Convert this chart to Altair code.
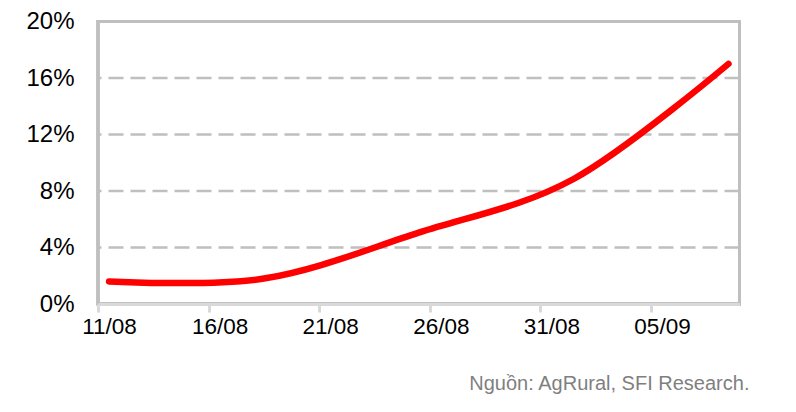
import altair as alt
import pandas as pd

# Weekly readings (day index from 11/08)
day_index = [0, 7, 14, 21, 28]
day_labels = ["11/08", "18/08", "25/08", "01/09", "08/09"]
pct = [1.6, 1.8, 5.05, 8.85, 17.0]

# Axis definitions
tick_positions = [-0.5, 4.5, 9.5, 14.5, 19.5, 24.5]
tick_labels = ["11/08", "16/08", "21/08", "26/08", "31/08", "05/09"]
y_ticks = [0, 4, 8, 12, 16, 20]
grid_levels = [4, 8, 12, 16]
x_domain = [-0.5, 28.5]
y_domain = [0, 20]

source_text = "Nguồn: AgRural, SFI Research."

df = pd.DataFrame({"day": day_index, "date": day_labels, "pct": pct})
grid_df = pd.DataFrame({"pct": grid_levels})

label_expr = " : ".join(
    f"datum.value == {p} ? '{l}'" for p, l in zip(tick_positions, tick_labels)
) + " : ''"

FONT = "Liberation Sans"
xscale = alt.Scale(domain=x_domain, nice=False, zero=False)
yscale = alt.Scale(domain=y_domain, nice=False, zero=True)

y_axis = alt.Axis(
    values=y_ticks,
    labelExpr="datum.value + '%'",
    ticks=False,
    domain=False,
    labelFontSize=24,
    labelFont=FONT,
    labelColor="#000000",
    labelPadding=24,
    grid=False,
    title=None,
)

grid = alt.Chart(grid_df).mark_rule(
    color="#BFBFBF", strokeWidth=2.5, strokeDash=[15, 7]
).encode(y=alt.Y("pct:Q", scale=yscale, axis=y_axis))

border = alt.Chart(grid_df).mark_rect(
    fill="transparent", stroke="#BFBFBF", strokeWidth=3
).encode(
    x=alt.datum(x_domain[0], scale=xscale),
    x2=alt.datum(x_domain[1]),
    y=alt.datum(y_domain[0], scale=yscale),
    y2=alt.datum(y_domain[1]),
)

line = alt.Chart(df).mark_line(
    color="#FF0000", strokeWidth=6.5, strokeCap="round", interpolate="cardinal"
).encode(
    x=alt.X(
        "day:Q",
        scale=xscale,
        axis=alt.Axis(
            values=tick_positions,
            labelExpr=label_expr,
            labelOffset=11,
            tickSize=8,
            tickWidth=3,
            tickColor="#D9D9D9",
            domainColor="#D9D9D9",
            domainWidth=3,
            labelFontSize=22.5,
            labelFont=FONT,
            labelColor="#000000",
            labelPadding=3,
            labelFlush=False,
            labelOverlap=False,
            grid=False,
            title=None,
            zindex=1,
        ),
    ),
    y=alt.Y("pct:Q", scale=yscale, axis=y_axis),
)

chart = alt.layer(grid, border, line).properties(
    width=641.5,
    height=282.5,
    title=alt.TitleParams(
        source_text,
        orient="bottom",
        anchor="end",
        fontSize=20,
        font=FONT,
        fontWeight="normal",
        color="#7F7F7F",
        offset=36,
        dx=8,
    ),
    autosize=alt.AutoSizeParams(type="none"),
    padding={"left": 90, "top": 13.5, "right": 40, "bottom": 90},
).configure_view(stroke=None)

chart.save("out.html", embed_options={"renderer": "svg", "actions": False})
